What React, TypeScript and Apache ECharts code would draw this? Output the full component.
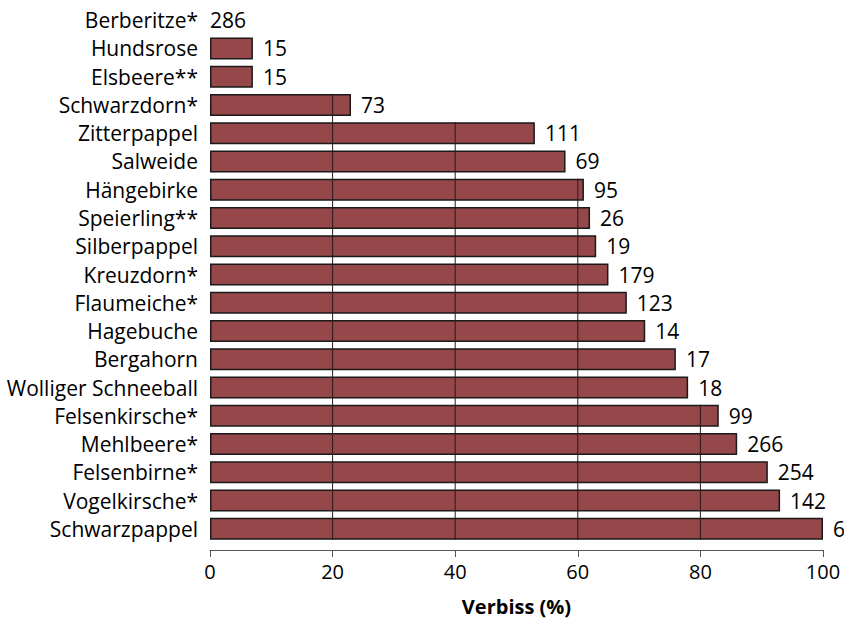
import React, { useEffect, useRef } from "react";
import * as echarts from "echarts";

const categories = [
  "Berberitze*", "Hundsrose", "Elsbeere**", "Schwarzdorn*", "Zitterpappel", "Salweide",
  "Hängebirke", "Speierling**", "Silberpappel", "Kreuzdorn*", "Flaumeiche*", "Hagebuche",
  "Bergahorn", "Wolliger Schneeball", "Felsenkirsche*", "Mehlbeere*", "Felsenbirne*",
  "Vogelkirsche*", "Schwarzpappel",
];
const verbiss = [0, 7, 7, 23, 53, 58, 61, 62, 63, 65, 68, 71, 76, 78, 83, 86, 91, 93, 100];
const counts = [286, 15, 15, 73, 111, 69, 95, 26, 19, 179, 123, 14, 17, 18, 99, 266, 254, 142, 6];
const gridTicks = [20, 40, 60, 80];

const FONT = "Open Sans";

export default function App() {
  const ref = useRef<HTMLDivElement>(null);
  useEffect(() => {
    document.body.style.margin = "0";
    const chart = echarts.init(ref.current!, null, { renderer: "svg" });
    const n = categories.length;
    chart.setOption({
      animation: false,
      grid: { left: 210, right: 21, top: 6, height: 537, containLabel: false, outerBoundsMode: "none" },
      xAxis: {
        type: "value",
        min: 0,
        max: 100,
        interval: 20,
        offset: 7,
        name: "Verbiss (%)",
        nameLocation: "middle",
        nameGap: 46,
        nameTextStyle: {
          fontFamily: FONT,
          fontSize: 20,
          lineHeight: 20,
          fontWeight: "bold",
          color: "#000",
        },
        axisLine: { show: true, lineStyle: { color: "#555", width: 1 } },
        axisTick: { show: true, length: 7, lineStyle: { color: "#555" } },
        axisLabel: { fontFamily: FONT, fontSize: 20, color: "#000", margin: 11 },
        splitLine: { show: false },
      },
      yAxis: {
        type: "category",
        inverse: true,
        data: categories,
        axisLine: { show: false },
        axisTick: { show: false },
        axisLabel: { fontFamily: FONT, fontSize: 21, color: "#000", margin: 12 },
      },
      series: [
        {
          type: "bar",
          data: verbiss.map((v, i) => ({
            value: v,
            itemStyle: v === 0 ? { borderWidth: 0 } : undefined,
            label: { distance: v === 0 ? 0 : 10, formatter: String(counts[i]) },
          })),
          barWidth: 22,
          itemStyle: { color: "#964749", borderColor: "#1a1a1a", borderWidth: 1.5 },
          label: {
            show: true,
            position: "right",
            fontFamily: FONT,
            fontSize: 21,
            color: "#000",
          },
          z: 2,
        },
        {
          type: "custom",
          z: 3,
          silent: true,
          data: gridTicks.map((t) => [t, verbiss.findIndex((v) => v > t)]),
          renderItem: (params: any, api: any) => {
            const t = api.value(0);
            const idx = api.value(1);
            const top = api.coord([t, idx]);
            const bottom = api.coord([t, n - 1]);
            return {
              type: "line",
              shape: { x1: top[0], y1: top[1] - 11, x2: bottom[0], y2: bottom[1] + 11 },
              style: { stroke: "#2b1a1a", lineWidth: 1 },
            };
          },
        },
      ],
    });
    return () => chart.dispose();
  }, []);
  return <div ref={ref} style={{ width: 844, height: 620 }} />;
}
